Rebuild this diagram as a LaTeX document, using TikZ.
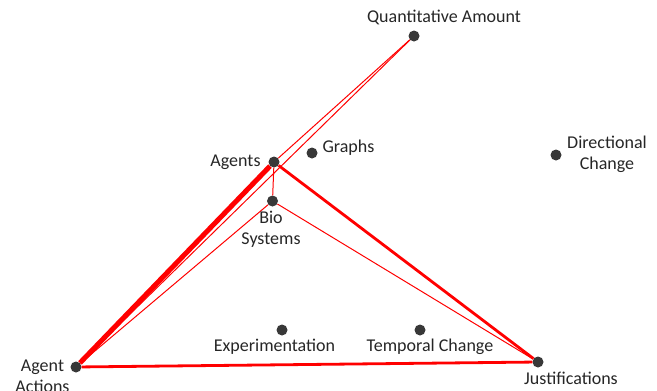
\documentclass[tikz,border=0pt]{standalone}
\usepackage{fontspec}
\setmainfont{Carlito}

\begin{document}
\begin{tikzpicture}[x=1pt,y=-1pt,
    dot/.style={circle, fill=black!78, inner sep=0pt, minimum size=11pt},
    lbl/.style={font=\fontsize{18}{21}\selectfont, text=black!85, align=center, inner sep=0pt},
    weak/.style={red, line width=1pt},
    strong/.style={red, line width=2.8pt},
    strongest/.style={red, line width=5pt}]
    \useasboundingbox (0,0) rectangle (657,391);
    % the nine concepts, placed in pixel units (y grows downwards)
    \foreach \n/\p in {QA/{414,36}, Ag/{274,162}, Gr/{312,153}, Bio/{272.5,201},
                       Exp/{282,330}, AA/{76,367}, TC/{420,330}, Ju/{538,362}, DC/{556,155}}
      \node[dot] (\n) at (\p) {};
    % links between co-occurring concepts, width ~ strength
    \draw[weak] (AA) -- (QA);
    \draw[weak] (Ag) -- (QA);
    \draw[weak] (Ag) -- (Bio);
    \draw[weak] (Bio) -- (AA);
    \draw[weak] (Bio) -- (Ju);
    \draw[strong] (Ag) -- (Ju);
    \draw[strong] (AA) -- (Ju);
    \draw[strongest] (AA) -- (Ag);
    % labels
    \node[lbl] (QA-l)  at (444,17)    {Quantitative Amount};
    \node[lbl] (Ag-l)  at (235.5,162) {Agents};
    \node[lbl] (Gr-l)  at (348.5,148) {Graphs};
    \node[lbl] (Bio-l) at (271,229)   {Bio\\Systems};
    \node[lbl] (Exp-l) at (274.5,347) {Experimentation};
    \node[lbl] (AA-l)  at (42.5,376)  {Agent\\Actions};
    \node[lbl] (TC-l)  at (430,347)   {Temporal Change};
    \node[lbl] (Ju-l)  at (571,378)   {Justifications};
    \node[lbl] (DC-l)  at (607,154)   {Directional\\Change};
\end{tikzpicture}
\end{document}
